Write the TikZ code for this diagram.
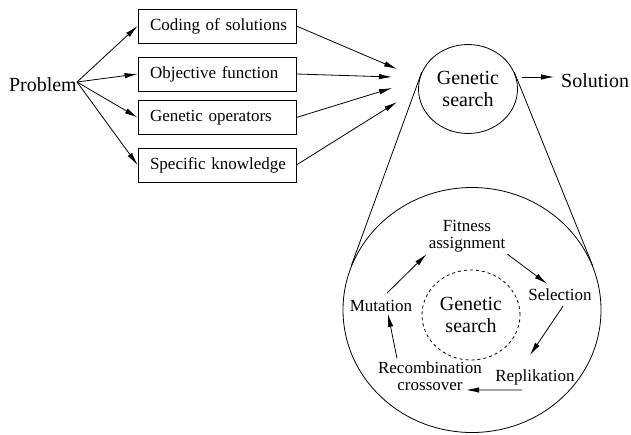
\documentclass[tikz,border=0pt]{standalone}
\usepackage{fontspec}
\setmainfont{Liberation Serif}
\usetikzlibrary{arrows.meta}
\usetikzlibrary{shapes.geometric}

\begin{document}
\begin{tikzpicture}[x=1pt,y=-1pt]
        \tikzset{box/.style = {shape=rectangle,draw,line width=0.8pt,minimum width=158pt,minimum height=34pt,text width=144pt,inner xsep=7pt,align=left,font=\fontsize{17}{19}\selectfont}}
        \tikzset{disk/.style = {shape=ellipse,draw,line width=0.8pt,inner sep=0pt,align=center,font=\fontsize{20}{22}\selectfont}}
        \tikzset{word/.style = {inner sep=2pt,align=center,font=\fontsize{17}{17}\selectfont}}
        \tikzset{edge/.style = {-{Latex[length=13pt,width=5.5pt]},line width=0.8pt}}
        \useasboundingbox (0,0) rectangle (631,434);
        % vertices
        \node[inner sep=0pt,anchor=east,font=\fontsize{20}{22}\selectfont] (problem) at (77,85) {Problem};
        \node[box] (coding) at (217,26) {\hspace*{5pt}Coding of solutions};
        \node[box] (objective) at (217,74) {\hspace*{5pt}Objective function};
        \node[box] (operators) at (217,117.5) {\hspace*{5pt}Genetic operators};
        \node[box] (knowledge) at (217,165) {\hspace*{5pt}Specific knowledge};
        \node[disk,minimum width=99pt,minimum height=89pt] (search) at (468,89) {Genetic\\search};
        \node[inner sep=0pt,anchor=base west,font=\fontsize{20}{22}\selectfont] (solution) at (561,87) {Solution};
        \node[disk,minimum width=258pt,minimum height=245pt] (loop) at (472,310) {};
        \node[disk,dashed,minimum width=98pt,minimum height=90pt] (core) at (471,315) {Genetic\\search};
        \node[word] (fitness) at (467,236) {Fitness\\assignment};
        \node[word] (selection) at (560,295) {Selection};
        \node[word] (replikation) at (535,377) {Replikation};
        \node[word] (recombination) at (430,376) {Recombination\\crossover};
        \node[word] (mutation) at (381,306) {Mutation};
        \coordinate (fork) at ([shift={(0,-3)}]problem.east);
        \coordinate (in1) at (397,69);
        \coordinate (in2) at (392,77);
        \coordinate (in3) at (392,88);
        \coordinate (in4) at (397,102);
        \coordinate (out) at (554,77);
        %edges
        \draw[edge] (fork) -- (coding.west);
        \draw[edge] (fork) -- (objective.west);
        \draw[edge] (fork) -- (operators.west);
        \draw[edge] (fork) -- (knowledge.west);
        \draw[edge] (coding.east) -- (in1);
        \draw[edge] (objective.east) -- (in2);
        \draw[edge] (operators.east) -- (in3);
        \draw[edge] (knowledge.east) -- (in4);
        \draw[edge] ([xshift=4pt]search.east |- out) -- (out);
        \draw[line width=0.8pt] (search.160) -- (loop.160);
        \draw[line width=0.8pt] (search.20) -- (loop.20);
        \draw[edge] (fitness.south east) -- ([shift={(-13,-3)}]selection.north);
        \draw[edge] ([shift={(3,3)}]selection.south) -- ([shift={(-5,-12)}]replikation.north);
        \draw[edge] ([shift={(-13,3)}]replikation.south) -- ([shift={(-18,14)}]recombination.east);
        \draw[edge] ([shift={(-33,-1)}]recombination.north) -- ([shift={(7,0)}]mutation.south);
        \draw[edge] ([shift={(6,-5)}]mutation.north) -- (fitness.south west);
    \end{tikzpicture}
\end{document}
